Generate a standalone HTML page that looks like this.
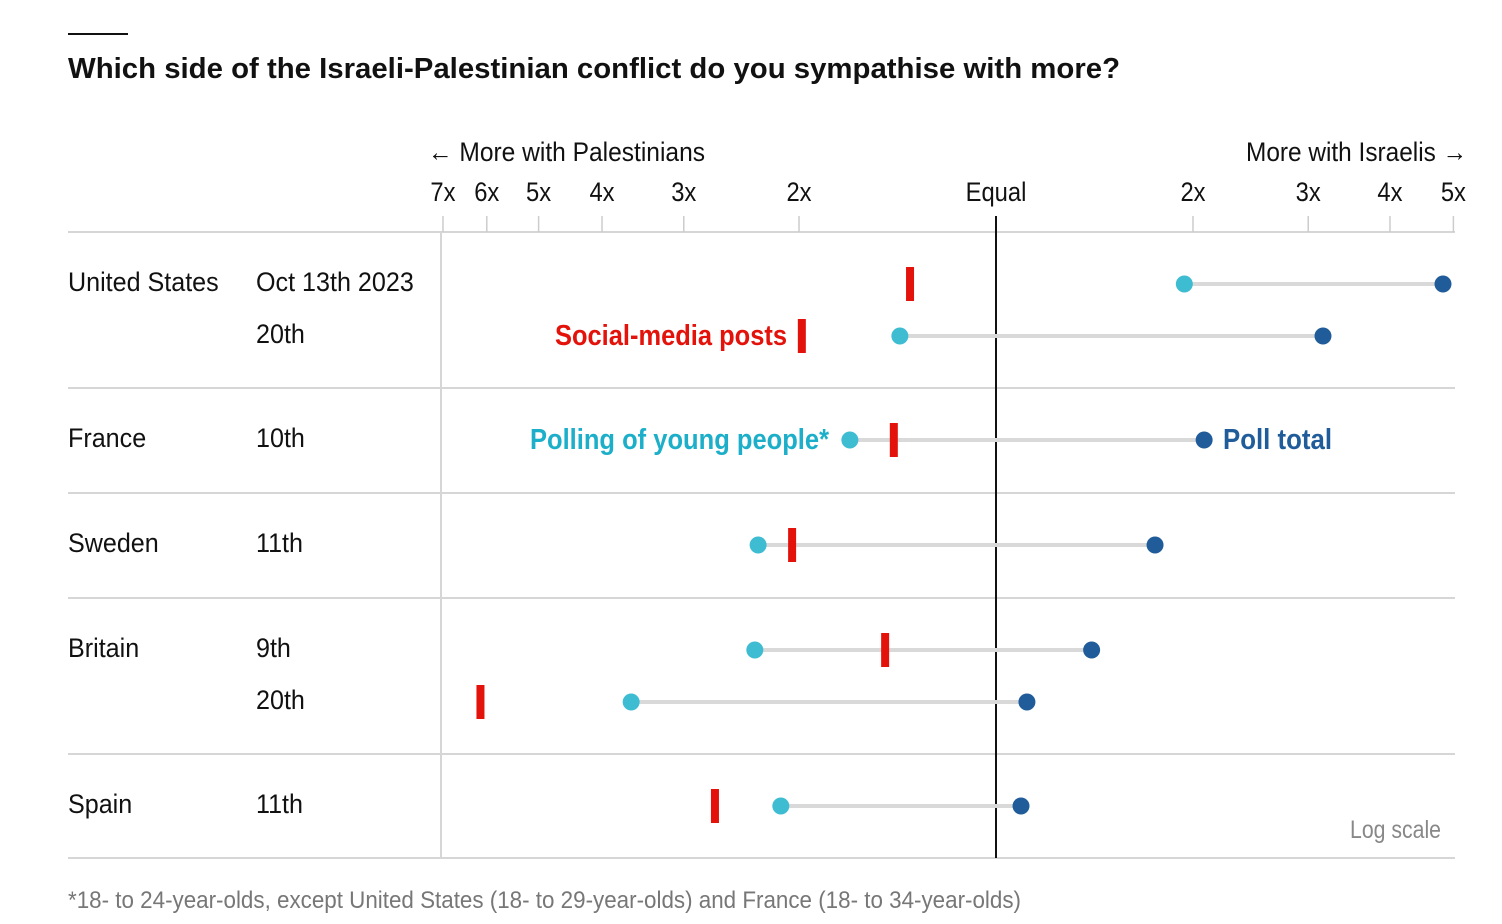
<!DOCTYPE html>
<html><head><meta charset="utf-8"><style>
html,body{margin:0;padding:0;background:#fff;width:1502px;height:924px;overflow:hidden}
svg{display:block;font-family:"Liberation Sans",sans-serif}
</style></head><body>
<svg id="c" width="1502" height="924">
<line x1="68" y1="34" x2="128" y2="34" stroke="#111" stroke-width="2"/>
<text x="68" y="78" font-weight="bold" font-size="29" fill="#111" textLength="1052" lengthAdjust="spacingAndGlyphs">Which side of the Israeli-Palestinian conflict do you sympathise with more?</text>
<text x="428" y="161" font-size="27" fill="#111" textLength="277" lengthAdjust="spacingAndGlyphs">← More with Palestinians</text>
<text x="1246" y="161" font-size="27" fill="#111" textLength="221" lengthAdjust="spacingAndGlyphs">More with Israelis →</text>
<g id="grid"></g><g id="ticks"></g><g id="rows"></g><g id="marks"></g>
<text x="555" y="345" font-size="29" font-weight="bold" fill="#e3120b" textLength="232" lengthAdjust="spacingAndGlyphs">Social-media posts</text>
<text x="530" y="449" font-size="29" font-weight="bold" fill="#1dafc9" textLength="299" lengthAdjust="spacingAndGlyphs">Polling of young people*</text>
<text x="1223" y="449" font-size="29" font-weight="bold" fill="#1f5c99" textLength="109" lengthAdjust="spacingAndGlyphs">Poll total</text>
<text x="1350" y="838" font-size="25" fill="#888" textLength="91" lengthAdjust="spacingAndGlyphs">Log scale</text>
<text x="68" y="908" font-size="24" fill="#777" textLength="953" lengthAdjust="spacingAndGlyphs">*18- to 24-year-olds, except United States (18- to 29-year-olds) and France (18- to 34-year-olds)</text>
</svg>
<script>
const tickValues=[1/7,1/6,1/5,1/4,1/3,1/2,1,2,3,4,5];
const tickLabels=["7x","6x","5x","4x","3x","2x","Equal","2x","3x","4x","5x"];
const countries=["United States","","France","Sweden","Britain","","Spain"];
const dates=["Oct 13th 2023","20th","10th","11th","9th","20th","11th"];
const socialMedia=[0.739,0.505,0.698,0.488,0.677,0.163,0.372];
const youngPeople=[1.94,0.713,0.598,0.433,0.428,0.277,0.469];
const pollTotal=[4.82,3.16,2.08,1.75,1.40,1.115,1.092];
const rowY=[284,336,440,545,650,702,806];
const seps=[232,388,493,598,754,858];
const NS="http://www.w3.org/2000/svg";
function x(v){return 996+284.2*Math.log(v);}
function mk(parent,tag,attrs){const e=document.createElementNS(NS,tag);for(const k in attrs)e.setAttribute(k,attrs[k]);document.getElementById(parent).appendChild(e);return e;}
function condense(t,f){const w=t.getComputedTextLength();t.setAttribute('textLength',(w*f).toFixed(1));t.setAttribute('lengthAdjust','spacingAndGlyphs');}
seps.forEach(y=>{const l=mk('grid','line',{x1:68,x2:1455,y1:y,y2:y,stroke:'#d6d6d6','stroke-width':2});

});
let a=mk('grid','line',{x1:441,x2:441,y1:232,y2:858,stroke:'#d6d6d6','stroke-width':2});


tickValues.forEach((v,i)=>{const tx=x(v);
const isEq=v===1;
const l=mk('ticks','line',{x1:tx,x2:tx,y1:216,y2:isEq?858:232,stroke:isEq?'#111':'#ccc','stroke-width':isEq?2:1.5});


const t=mk('ticks','text',{x:tx,y:201,'text-anchor':'middle','font-size':27,fill:'#111'});
t.textContent=tickLabels[i];


condense(t,0.88);});
rowY.forEach((y,i)=>{
if(countries[i]){const c=mk('rows','text',{x:68,y:y+7,'font-size':27,fill:'#111'});c.textContent=countries[i];

condense(c,0.93);}
const d=mk('rows','text',{x:256,y:y+7,'font-size':27,fill:'#111'});d.textContent=dates[i];

condense(d,0.93);
const l=mk('marks','line',{x1:x(youngPeople[i]),x2:x(pollTotal[i]),y1:y,y2:y,stroke:'#d9d9d9','stroke-width':4});


const r=mk('marks','rect',{x:x(socialMedia[i])-4,y:y-17,width:8,height:34,fill:'#e3120b'});


const yc=mk('marks','circle',{cx:x(youngPeople[i]),cy:y,r:8.5,fill:'#3ebcd2'});


const pc=mk('marks','circle',{cx:x(pollTotal[i]),cy:y,r:8.5,fill:'#1f5c99'});


});
</script>
</body></html>
